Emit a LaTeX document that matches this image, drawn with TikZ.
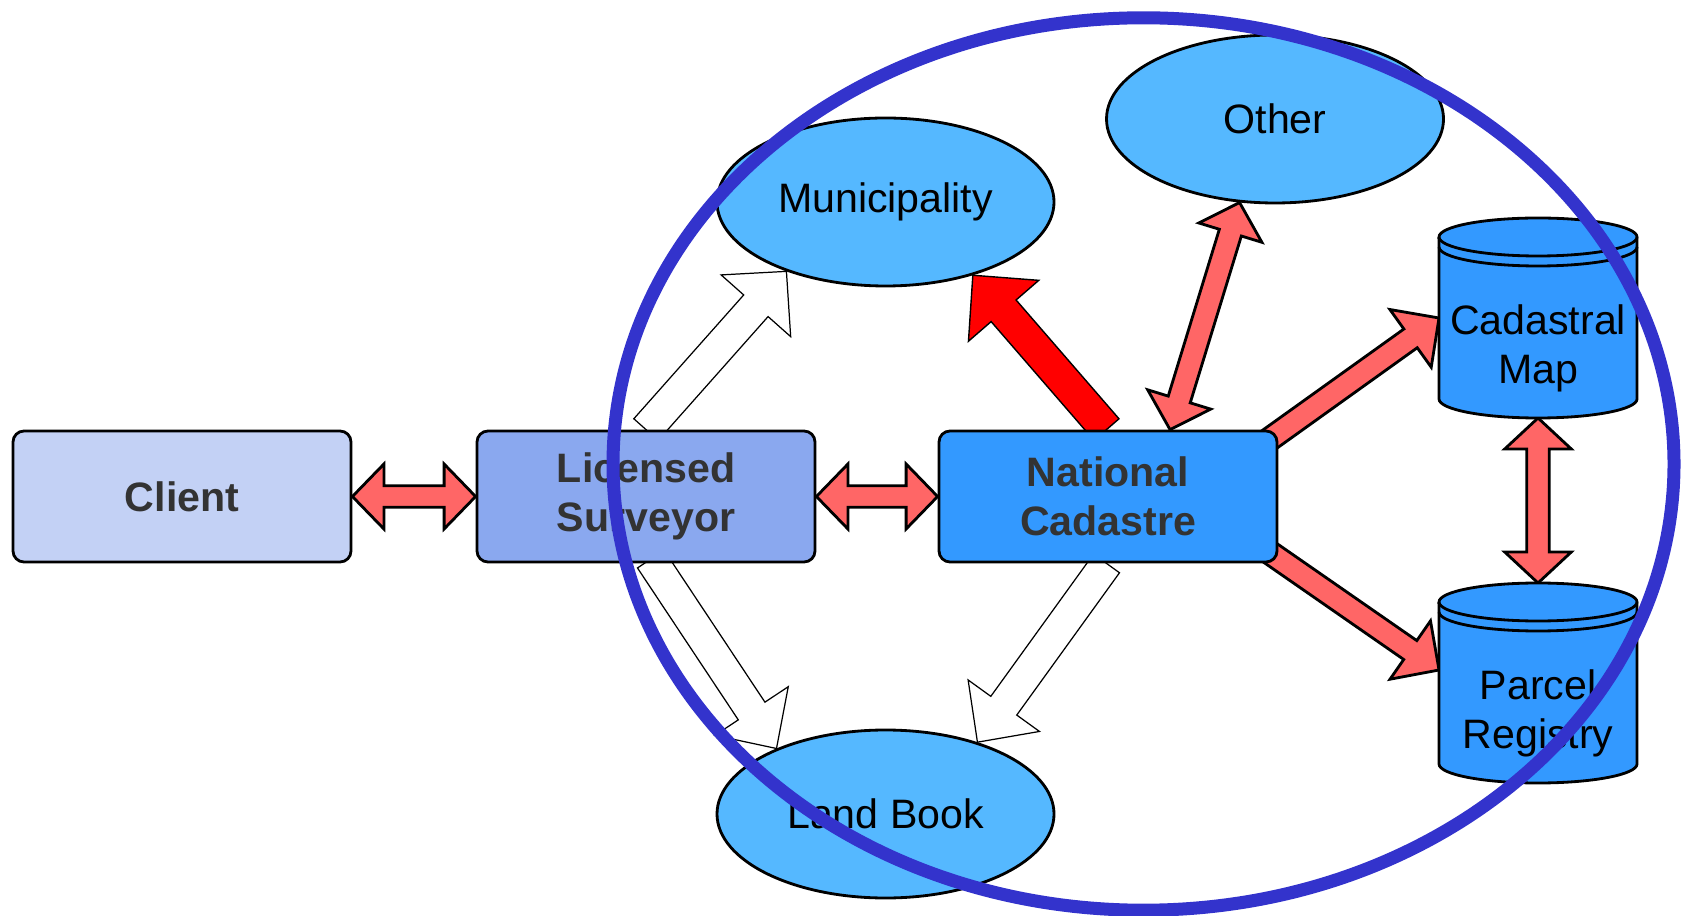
\documentclass[tikz,border=0pt]{standalone}
\usepackage{fontspec}
\setmainfont{Liberation Sans}
\usetikzlibrary{calc,backgrounds,shapes.geometric}

\definecolor{clientblue}{HTML}{C3D1F5}
\definecolor{surveyblue}{HTML}{8AA8EF}
\definecolor{cadblue}{HTML}{3399FF}
\definecolor{ovalblue}{HTML}{55B8FF}
\definecolor{arrowred}{HTML}{FF6666}
\definecolor{ringblue}{HTML}{3333CC}
\definecolor{boxtext}{HTML}{333333}

\tikzset{
  box/.style={draw, line width=0.8pt, rounded corners=0.11cm, minimum width=3.38cm,
    minimum height=1.31cm, inner sep=0pt, text=boxtext, align=center,
    font=\fontsize{11.7}{13.8}\selectfont\bfseries},
  oval/.style={ellipse, draw, line width=0.8pt, fill=ovalblue, minimum width=3.37cm,
    minimum height=1.68cm, inner sep=0pt, font=\fontsize{11.7}{13.8}\selectfont},
  footprint/.style={rectangle, minimum width=1.98cm, minimum height=2cm, inner sep=0pt, outer sep=0pt},
  cylbody/.style={draw, line width=0.8pt, fill=cadblue},
  cylline/.style={draw, line width=0.8pt},
  cyltext/.style={align=center, inner sep=0pt, font=\fontsize{11.7}{13.8}\selectfont},
  redarrow/.style={draw, line width=0.8pt, fill=arrowred},
  boldarrow/.style={draw, line width=0.4pt, fill=red},
  whitearrow/.style={draw, line width=0.35pt, fill=white},
  ring/.style={draw=ringblue, line width=0.13cm}
}

% block arrow: [style]{from}{to}{shaft half width}{head half width}{head length}
\newcommand{\blockarrow}[6][]{%
  \coordinate (bah) at ($(#3)!#6!(#2)$);
  \draw[#1] ($(#2)!#4!90:(#3)$) -- ($(bah)!#4!90:(#3)$) -- ($(bah)!#5!90:(#3)$) -- (#3)
    -- ($(bah)!#5!-90:(#3)$) -- ($(bah)!#4!-90:(#3)$) -- ($(#2)!#4!-90:(#3)$) -- cycle;}
% same, with a head at both ends
\newcommand{\dblarrow}[6][]{%
  \coordinate (dah) at ($(#2)!#6!(#3)$);
  \coordinate (dak) at ($(#3)!#6!(#2)$);
  \draw[#1] (#2) -- ($(dah)!#5!90:(#3)$) -- ($(dah)!#4!90:(#3)$) -- ($(dak)!#4!90:(#3)$)
    -- ($(dak)!#5!90:(#3)$) -- (#3) -- ($(dak)!#5!-90:(#3)$) -- ($(dak)!#4!-90:(#3)$)
    -- ($(dah)!#4!-90:(#3)$) -- ($(dah)!#5!-90:(#3)$) -- cycle;}
% database drum around a footprint node
\newcommand{\dbcyl}[1]{%
  \draw[cylbody] ($(#1.north west)+(0,-0.19)$) -- ($(#1.south west)+(0,0.19)$)
    arc[start angle=180, end angle=360, x radius=0.99, y radius=0.19]
    -- ($(#1.north east)+(0,-0.19)$)
    arc[start angle=0, end angle=180, x radius=0.99, y radius=0.19] -- cycle;
  \draw[cylline] ($(#1.north west)+(0,-0.19)$) arc[start angle=180, end angle=360, x radius=0.99, y radius=0.19];
  \draw[cylline] ($(#1.north west)+(0,-0.29)$) arc[start angle=180, end angle=360, x radius=0.99, y radius=0.19];}

\begin{document}
\begin{tikzpicture}
  \useasboundingbox (0,0) rectangle (16.81,9.15);

  \node[box, fill=clientblue] (cl) at (1.82,4.185) {Client};
  \node[box, fill=surveyblue] (ls) at (6.46,4.185) {Licensed\\Surveyor};
  \node[box, fill=cadblue] (nc) at (11.08,4.185) {National\\Cadastre};

  \node[oval] (mun) at (8.855,7.13) {Municipality};
  \node[oval] (oth) at (12.75,7.96) {Other};
  \node[oval] (lb) at (8.855,1.01) {Land Book};

  \node[footprint] (cm) at (15.38,5.97) {};
  \node[footprint] (pr) at (15.38,2.32) {};
  \dbcyl{cm}
  \dbcyl{pr}
  \node[cyltext] (cmt) at ($(cm.center)+(0,-0.305)$) {Cadastral\\Map};
  \node[cyltext] (prt) at ($(pr.center)+(0,-0.305)$) {Parcel\\Registry};

  \begin{pgfonlayer}{background}
    \coordinate (rb) at ($(nc.north)+(-0.015,0)$);
    \coordinate (wb) at ($(ls.south)+(0.048,0.043)$);
    \coordinate (wc) at ($(nc.south)+(-0.015,0)$);
    \coordinate (ot) at ($(nc.north)+(0.62,0)$);
    \coordinate (mp) at ($(nc.north east)+(-0.12,-0.12)$);
    \coordinate (pa) at ($(nc.south east)+(-0.125,0.135)$);
    \coordinate (pt) at ($(pr.west)+(0,0.13)$);

    \dblarrow[redarrow]{cl.east}{ls.west}{0.108cm}{0.325cm}{0.315cm}
    \dblarrow[redarrow]{ls.east}{nc.west}{0.108cm}{0.325cm}{0.315cm}
    \dblarrow[redarrow]{ot}{oth.247}{0.115cm}{0.33cm}{0.315cm} % to other
    \dblarrow[redarrow]{cm.south}{pr.north}{0.112cm}{0.333cm}{0.31cm}

    \blockarrow[redarrow]{mp}{cm.west}{0.115cm}{0.355cm}{0.35cm}
    \blockarrow[redarrow]{pa}{pt}{0.115cm}{0.355cm}{0.35cm}

    \blockarrow[boldarrow]{rb}{mun.-40}{0.165cm}{0.465cm}{0.47cm}

    \blockarrow[whitearrow]{ls.north}{mun.215}{0.163cm}{0.465cm}{0.46cm}
    \blockarrow[whitearrow]{wb}{lb.149}{0.16cm}{0.44cm}{0.45cm}
    \blockarrow[whitearrow]{wc}{lb.38}{0.16cm}{0.44cm}{0.45cm}
  \end{pgfonlayer}

  \draw[ring] (11.435,4.51) ellipse [x radius=5.305, y radius=4.462];
\end{tikzpicture}
\end{document}
